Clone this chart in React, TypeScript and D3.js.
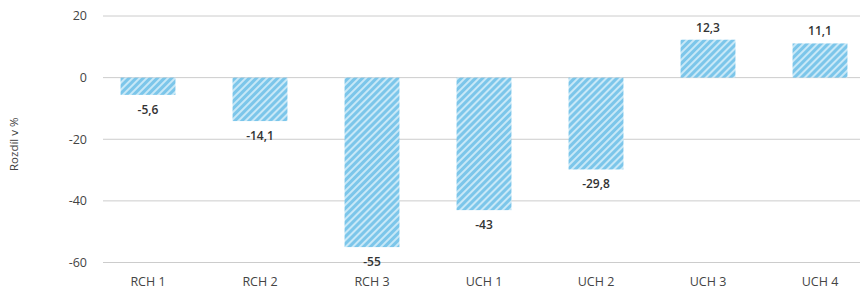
import React, { useEffect, useRef } from 'react';
import * as d3 from 'd3';

const categories = ['RCH 1', 'RCH 2', 'RCH 3', 'UCH 1', 'UCH 2', 'UCH 3', 'UCH 4'];
const values = [-5.6, -14.1, -55, -43, -29.8, 12.3, 11.1];
const yTicks = [20, 0, -20, -40, -60];

const W = 863;
const H = 293;

export default function App() {
  const svgRef = useRef<SVGSVGElement>(null);

  useEffect(() => {
    if (!svgRef.current) return;
    const svg = d3.select(svgRef.current);
    svg.selectAll('*').remove();

    const font = '"Open Sans", "Noto Sans", sans-serif';

    // Hatch pattern
    const defs = svg.append('defs');
    const pat = defs.append('pattern')
      .attr('id', 'hatch')
      .attr('patternUnits', 'userSpaceOnUse')
      .attr('width', 5)
      .attr('height', 5)
      .attr('patternTransform', 'rotate(45)');
    pat.append('rect').attr('width', 5).attr('height', 5).attr('fill', '#c8e8f7');
    pat.append('rect').attr('width', 3).attr('height', 5).attr('fill', '#7cc6ea');

    const x = d3.scaleBand<string>()
      .domain(categories)
      .range([92, 876])
      .paddingInner(0.51)
      .paddingOuter(0.255);

    const y = d3.scaleLinear().domain([-60, 20]).range([262.5, 16]);

    // Grid lines
    svg.append('g')
      .selectAll('line')
      .data(yTicks)
      .join('line')
      .attr('x1', 103)
      .attr('x2', 860)
      .attr('y1', d => y(d))
      .attr('y2', d => y(d))
      .attr('stroke', '#cccccc')
      .attr('stroke-width', 1);

    // Y tick labels
    svg.append('g')
      .selectAll('text')
      .data(yTicks)
      .join('text')
      .attr('x', 87)
      .attr('y', d => y(d))
      .attr('dy', '0.35em')
      .attr('text-anchor', 'end')
      .style('font-family', font)
      .style('font-size', '12.5px')
      .style('fill', '#444')
      .text(d => String(d));

    // Y title
    svg.append('text')
      .attr('transform', `translate(18,${y(-20) + 5}) rotate(-90)`)
      .attr('text-anchor', 'middle')
      .style('font-family', font)
      .style('font-size', '11.5px')
      .style('fill', '#444')
      .text('Rozdíl v %');

    // Bars
    svg.append('g')
      .selectAll('rect')
      .data(values)
      .join('rect')
      .attr('x', (d, i) => x(categories[i]) || 0)
      .attr('width', x.bandwidth())
      .attr('y', d => y(Math.max(0, d)))
      .attr('height', d => Math.abs(y(d) - y(0)))
      .attr('fill', 'url(#hatch)');

    // Value labels
    const fmt = (v: number) => String(v).replace('.', ',');
    svg.append('g')
      .selectAll('text')
      .data(values)
      .join('text')
      .attr('x', (d, i) => (x(categories[i]) || 0) + x.bandwidth() / 2)
      .attr('y', d => d < 0 ? y(d) + 19 : y(d) - 8)
      .attr('text-anchor', 'middle')
      .style('font-family', font)
      .style('font-size', '12px')
      .style('font-weight', '600')
      .style('fill', '#333')
      .text(d => fmt(d));

    // X labels
    svg.append('g')
      .selectAll('text')
      .data(categories)
      .join('text')
      .attr('x', d => (x(d) || 0) + x.bandwidth() / 2)
      .attr('y', 286)
      .attr('text-anchor', 'middle')
      .style('font-family', font)
      .style('font-size', '12.5px')
      .style('fill', '#444')
      .text(d => d);
  }, []);

  return (
    <svg
      ref={svgRef}
      width={W}
      height={H}
      style={{ position: 'absolute', left: 0, top: 0, background: '#fff' }}
    />
  );
}
